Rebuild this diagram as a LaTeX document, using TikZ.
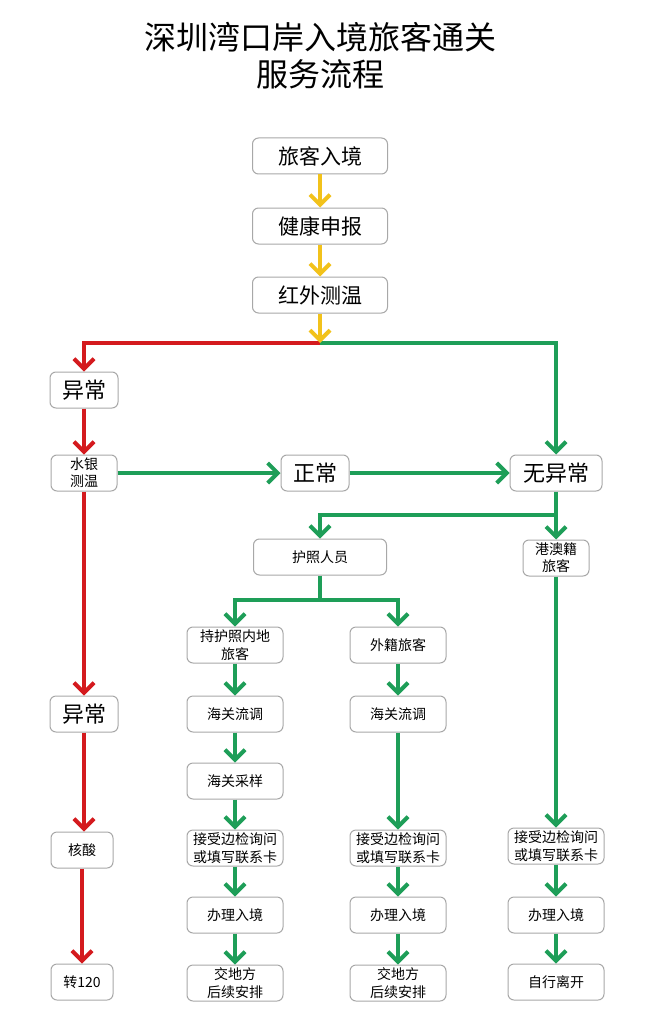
\documentclass[tikz,border=0pt]{standalone}
\usepackage{fontspec}
\usepackage{xcolor}
\usetikzlibrary{arrows.meta}
\setmainfont{Noto Sans CJK SC}
\definecolor{flowyellow}{HTML}{F2C21B}
\definecolor{flowred}{HTML}{D41A1E}
\definecolor{flowgreen}{HTML}{1E9E58}
\definecolor{boxgray}{HTML}{A8A8A8}

\begin{document}
\begin{tikzpicture}[x=1pt, y=-1pt,
    box/.style={draw=boxgray, fill=white, rounded corners=6pt, line width=1pt,
                minimum height=36pt, inner sep=2pt, align=center},
    bigbox/.style={box, font=\fontsize{21}{24}\selectfont, minimum width=135pt},
    tagbox/.style={box, font=\fontsize{22}{25}\selectfont, minimum width=68pt},
    smallbox/.style={box, font=\fontsize{14}{18.5}\selectfont, minimum width=96pt},
    tinybox/.style={box, font=\fontsize{14}{17}\selectfont, minimum width=66pt},
    ylw/.style={draw=flowyellow, line width=4pt, -{Straight Barb[length=10pt,width=20pt]}},
    redl/.style={draw=flowred, line width=4pt, -{Straight Barb[length=10pt,width=20pt]}},
    grn/.style={draw=flowgreen, line width=4pt, -{Straight Barb[length=10pt,width=20pt]}}]
  \useasboundingbox[fill=white] (0,0) rectangle (645,1011);

  % title
  \node (title) at (320,56) [align=center, font=\fontsize{32}{37}\selectfont]
    {深圳湾口岸入境旅客通关\\服务流程};

  % main line
  \node[bigbox] (entry)  at (320,156) {旅客入境};
  \node[bigbox] (health) at (320,226) {健康申报};
  \node[bigbox] (temp)   at (320,295) {红外测温};
  \coordinate (split) at (320,343);

  % left column
  \node[tagbox]  (abn1)  at (84,390) {异常};
  \node[tinybox] (merc)  at (84,473) {水银\\测温};
  \node[tagbox]  (abn2)  at (84,714) {异常};
  \node[tinybox, minimum width=62pt] (nat)  at (82,850) {核酸};
  \node[tinybox, minimum width=62pt] (hosp) at (82,982) {转120};

  % normal
  \node[tagbox] (norm)  at (315,473) {正常};
  \node[tagbox, minimum width=92pt] (noabn) at (556,473) {无异常};
  \coordinate (fork1) at (556,515);

  % passport holders
  \node[smallbox, minimum width=133pt] (pass) at (320,557) {护照人员};
  \coordinate (fork2) at (320,600);
  \node[smallbox] (mainland) at (235,645) {持护照内地\\旅客};
  \node[smallbox] (foreign)  at (398,645) {外籍旅客};
  \node[smallbox] (survl)    at (235,714) {海关流调};
  \node[smallbox] (survr)    at (398,714) {海关流调};
  \node[smallbox] (sample)   at (235,781) {海关采样};
  \node[smallbox] (checkl)   at (235,848) {接受边检询问\\或填写联系卡};
  \node[smallbox] (checkm)   at (398,848) {接受边检询问\\或填写联系卡};
  \node[smallbox] (entl)     at (235,915) {办理入境};
  \node[smallbox] (entm)     at (398,915) {办理入境};
  \node[smallbox] (locl)     at (235,983) {交地方\\后续安排};
  \node[smallbox] (locm)     at (398,983) {交地方\\后续安排};

  % hong kong / macao
  \node[tinybox] (hkm)    at (556,558) {港澳籍\\旅客};
  \node[smallbox] (checkr) at (556,846) {接受边检询问\\或填写联系卡};
  \node[smallbox] (entr)   at (556,915) {办理入境};
  \node[smallbox] (leave)  at (556,982) {自行离开};

  % connectors
  \draw[ylw] (entry) -- (health);
  \draw[ylw] (health) -- (temp);
  \draw[redl] (split) -| (abn1);
  \draw[grn] (split) -| (noabn);
  \draw[ylw] (temp) -- (split);
  \draw[redl] (abn1) -- (merc);
  \draw[redl] (merc) -- (abn2);
  \draw[redl] (abn2.south) -- (abn2.south |- nat.north);
  \draw[redl] (nat) -- (hosp);
  \draw[grn] (merc) -- (norm);
  \draw[grn] (norm) -- (noabn);
  \draw[grn] (noabn) -- (hkm);
  \draw[grn] (fork1) -| (pass);
  \draw[grn, -] (pass) -- (fork2);
  \draw[grn] (fork2) -| (mainland);
  \draw[grn] (fork2) -| (foreign);
  \draw[grn] (mainland) -- (survl);
  \draw[grn] (survl) -- (sample);
  \draw[grn] (sample) -- (checkl);
  \draw[grn] (checkl) -- (entl);
  \draw[grn] (entl) -- (locl);
  \draw[grn] (foreign) -- (survr);
  \draw[grn] (survr) -- (checkm);
  \draw[grn] (checkm) -- (entm);
  \draw[grn] (entm) -- (locm);
  \draw[grn] (hkm) -- (checkr);
  \draw[grn] (checkr) -- (entr);
  \draw[grn] (entr) -- (leave);
\end{tikzpicture}
\end{document}
